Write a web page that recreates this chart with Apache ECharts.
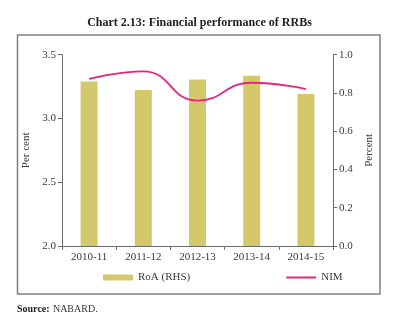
<!DOCTYPE html>
<html>
<head>
<meta charset="utf-8">
<script src="https://cdn.jsdelivr.net/npm/echarts@6/dist/echarts.min.js"></script>
<style>
  html, body { margin: 0; padding: 0; background: #fff; }
  #chart { width: 399px; height: 324px; }
</style>
</head>
<body>
<div id="chart"></div>
<script>
// Financial performance of Regional Rural Banks
const years = ['2010-11', '2011-12', '2012-13', '2013-14', '2014-15'];
const roa = [0.86, 0.815, 0.87, 0.89, 0.795];   // RoA, per cent (right axis)
const nim = [3.31, 3.37, 3.14, 3.28, 3.23];     // NIM, per cent (left axis)
const leftTicks = { min: 2.0, max: 3.5, interval: 0.5 };
const rightTicks = { min: 0.0, max: 1.0, interval: 0.2 };

const serif = '"Liberation Serif", "DejaVu Serif", serif';
const axisGrey = '#6b6b6b';
const textGrey = '#3a3a3a';

const chart = echarts.init(document.getElementById('chart'), null, { renderer: 'canvas' });

chart.setOption({
  animation: false,
  textStyle: { fontFamily: serif },
  title: {
    text: 'Chart 2.13: Financial performance of RRBs',
    left: 'center',
    top: 12,
    textStyle: { fontFamily: serif, fontSize: 12, fontWeight: 'bold', color: '#222' }
  },
  graphic: [
    {
      type: 'rect',
      shape: { x: 17.5, y: 35, width: 362.5, height: 259 },
      style: { fill: 'none', stroke: '#808080', lineWidth: 1.5 },
      silent: true
    },
    {
      type: 'text',
      left: 17,
      top: 303,
      style: {
        text: '{b|Source:} {r|NABARD.}',
        rich: {
          b: { fontFamily: serif, fontSize: 10, fontWeight: 'bold', fill: '#222' },
          r: { fontFamily: serif, fontSize: 10, fill: '#333' }
        }
      }
    }
  ],
  legend: {
    bottom: 36,
    left: 98,
    itemGap: 96,
    itemWidth: 30,
    itemHeight: 6,
    textStyle: { fontFamily: serif, fontSize: 11, color: textGrey },
    data: [
      { name: 'RoA (RHS)', icon: 'rect' },
      { name: 'NIM', icon: 'path://M0,0 L30,0 L30,2 L0,2 Z' }
    ]
  },
  grid: { left: 62, right: 66, top: 54.7, bottom: 78, containLabel: false },
  xAxis: {
    type: 'category',
    data: years,
    boundaryGap: true,
    axisLine: { lineStyle: { color: axisGrey, width: 1 } },
    axisTick: { show: true, alignWithLabel: false, length: 4, lineStyle: { color: axisGrey } },
    axisLabel: { color: textGrey, fontFamily: serif, fontSize: 11, margin: 6 }
  },
  yAxis: [
    {
      type: 'value',
      position: 'left',
      min: leftTicks.min, max: leftTicks.max, interval: leftTicks.interval,
      name: 'Per cent',
      nameLocation: 'middle',
      nameRotate: 90,
      nameGap: 23,
      nameTextStyle: { fontFamily: serif, fontSize: 11, color: textGrey },
      axisLine: { show: true, lineStyle: { color: axisGrey } },
      axisTick: { show: true, length: 4, lineStyle: { color: axisGrey } },
      splitLine: { show: false },
      axisLabel: { color: textGrey, fontFamily: serif, fontSize: 11, margin: 6,
                   formatter: v => v.toFixed(1) }
    },
    {
      type: 'value',
      position: 'right',
      min: rightTicks.min, max: rightTicks.max, interval: rightTicks.interval,
      name: 'Percent',
      nameLocation: 'middle',
      nameRotate: 90,
      nameGap: 29,
      nameTextStyle: { fontFamily: serif, fontSize: 11, color: textGrey },
      axisLine: { show: true, lineStyle: { color: axisGrey } },
      axisTick: { show: true, length: 4, lineStyle: { color: axisGrey } },
      splitLine: { show: false },
      axisLabel: { color: textGrey, fontFamily: serif, fontSize: 11, margin: 6,
                   formatter: v => v.toFixed(1) }
    }
  ],
  series: [
    {
      name: 'RoA (RHS)',
      type: 'bar',
      yAxisIndex: 1,
      data: roa,
      barWidth: 17,
      itemStyle: { color: '#d4c86c' }
    },
    {
      name: 'NIM',
      type: 'line',
      yAxisIndex: 0,
      data: nim,
      smooth: 0.5,
      symbol: 'none',
      lineStyle: { color: '#e8237f', width: 1.8 },
      itemStyle: { color: '#e8237f' }
    }
  ]
});
</script>
</body>
</html>
